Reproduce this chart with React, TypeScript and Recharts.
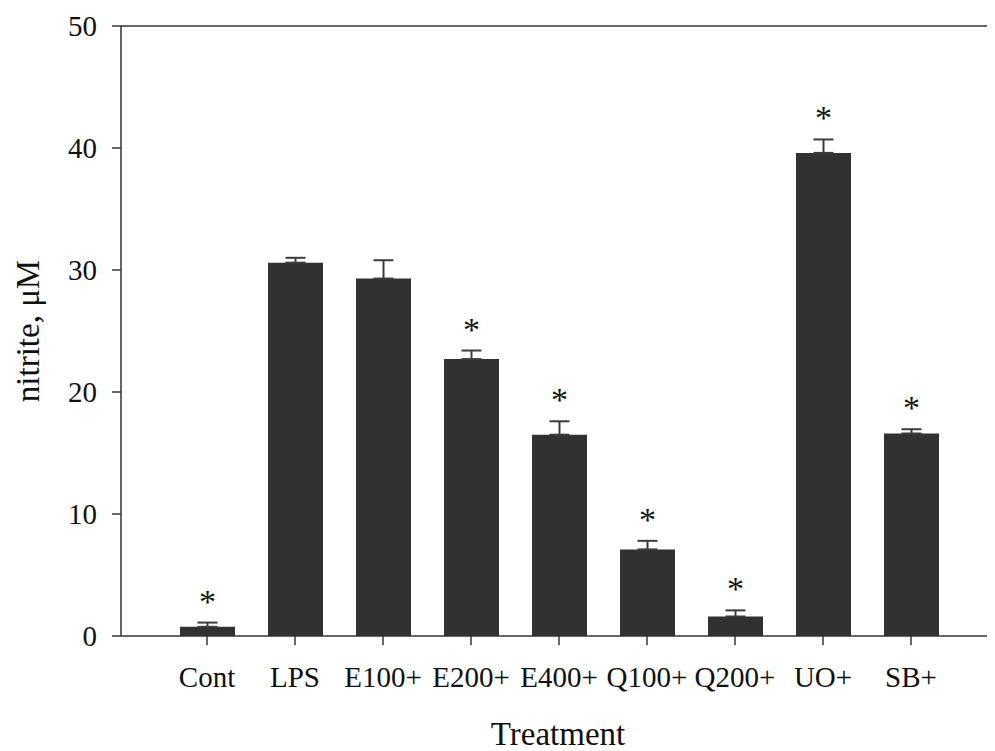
import { Bar, BarChart, ErrorBar, LabelList, Label, ReferenceLine, XAxis, YAxis } from 'recharts';

const categories = ['Cont', 'LPS', 'E100+', 'E200+', 'E400+', 'Q100+', 'Q200+', 'UO+', 'SB+'];
const means = [0.75, 30.6, 29.3, 22.7, 16.5, 7.1, 1.6, 39.6, 16.6];
const sems = [0.35, 0.4, 1.5, 0.7, 1.1, 0.7, 0.5, 1.1, 0.35];
const significant = [true, false, false, true, true, true, true, true, true];
const yTicks = [0, 10, 20, 30, 40, 50];

const font = '"Liberation Serif", "Times New Roman", serif';

export default function App() {
  const rows = categories.map((name, i) => ({
    name,
    mean: means[i],
    err: [0, sems[i]],
    cap: sems[i],
    star: significant[i] ? '*' : '',
  }));

  return (
    <BarChart
      width={987}
      height={743}
      data={rows}
      margin={{ top: 18, right: 0, left: 0, bottom: 0 }}
      barSize={55}
    >
      <XAxis
        dataKey="name"
        height={115}
        padding={{ left: 42, right: 40 }}
        stroke="#333"
        strokeWidth={1.5}
        tickSize={9}
        tickMargin={21}
        tick={{ fill: '#111', fontSize: 29, fontFamily: font }}
        interval={0}
      >
        <Label value="Treatment" position="insideBottom" offset={6} fill="#111" fontSize={33} fontFamily={font} />
      </XAxis>
      <YAxis
        domain={[0, 50]}
        ticks={yTicks}
        width={113}
        stroke="#333"
        strokeWidth={1.5}
        tickSize={9}
        tickMargin={15}
        tick={{ fill: '#111', fontSize: 29, fontFamily: font }}
      >
        <Label
          value="nitrite, μM"
          angle={-90}
          position="insideLeft"
          offset={19}
          textAnchor="middle"
          fill="#111"
          fontSize={33}
          fontFamily={font}
        />
      </YAxis>
      <ReferenceLine y={50} stroke="#333" strokeWidth={1.5} />
      <Bar dataKey="mean" stackId="s" fill="#313131" isAnimationActive={false}>
        <ErrorBar dataKey="err" width={10} stroke="#3c3c3c" strokeWidth={2} />
      </Bar>
      <Bar dataKey="cap" stackId="s" fill="none" isAnimationActive={false}>
        <LabelList dataKey="star" position="top" offset={10} fill="#111" fontSize={34} fontFamily={font} />
      </Bar>
    </BarChart>
  );
}
